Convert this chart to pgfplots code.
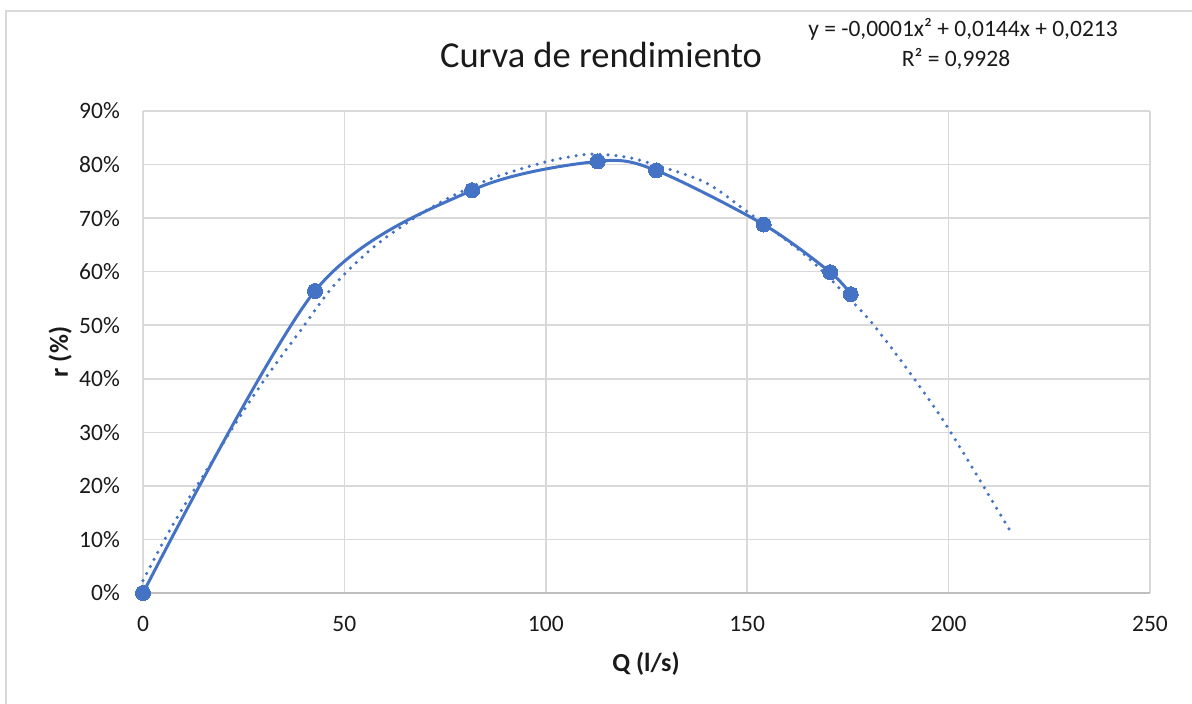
\documentclass[border=0pt]{standalone}
\usepackage{pgfplots}
\pgfplotsset{compat=1.18}
\usepackage{fontspec}
\setmainfont{Carlito}
\definecolor{xlblue}{HTML}{4472C4}
\definecolor{gridgrey}{HTML}{D9D9D9}
\definecolor{axisgrey}{HTML}{BFBFBF}
\definecolor{txt}{HTML}{1A1A1A}
\begin{document}
\begin{tikzpicture}
\path[use as bounding box] (-143pt,-111pt) rectangle (1049pt,593pt);
\draw[gridgrey, line width=1.5pt] (1060pt,-120pt) -- (-137pt,-120pt) -- (-137pt,582pt) -- (1060pt,582pt);
\begin{axis}[
scale only axis,
width=1007pt,
height=482pt,
xmin=0, xmax=250,
ymin=0, ymax=90,
xtick={0,50,100,150,200,250},
ytick={0,10,20,30,40,50,60,70,80,90},
xticklabels={0,50,100,150,200,250},
yticklabels={0\%,10\%,20\%,30\%,40\%,50\%,60\%,70\%,80\%,90\%},
major tick length=0pt,
axis x line*=bottom,
axis y line*=left,
x axis line style={axisgrey, line width=1.5pt, -},
y axis line style={draw=none},
grid=major,
grid style={gridgrey, line width=1.5pt},
tick label style={font=\fontsize{23.5}{28}\selectfont, text=txt},
xticklabel style={anchor=base, yshift=-39pt},
yticklabel style={anchor=east, inner sep=0pt, xshift=-23pt},
xlabel={\textbf{Q (l/s)}},
ylabel={\textbf{r (\%)}},
label style={font=\fontsize{26}{31}\selectfont, text=txt},
xlabel style={at={(rel axis cs:0.4995,0)}, anchor=base, yshift=-79pt},
ylabel style={at={(rel axis cs:-0.0745,0.5)}, anchor=base},
clip=false,
]
% dotted trendline
\addplot[xlblue, line width=3.5pt, line cap=round, dash pattern=on 0pt off 8pt, smooth] coordinates {
(0,2.3) (4.8,9.2) (9.5,15.4) (15.2,22.2) (22.9,31.6) (30.5,40.2) (39,48.9)
(47.6,57.6) (58.1,65.1) (71.4,71.9) (84.8,76.9) (99,80.3) (110.3,81.9)
(120,81.4) (128.2,79.7) (139.8,76.6) (149.8,71.3) (164.7,62.9) (177.9,53)
(182.9,48.6) (190.3,41.2) (199.8,30.9) (215.6,11.2)};
% measured values
\addplot[xlblue, line width=3pt, smooth, tension=0.5, mark=*, mark size=7.5pt,
  mark options={solid, fill=xlblue, draw=xlblue, line width=0pt}] coordinates {
(0,0) (42.7,56.4) (81.7,75.2) (112.9,80.6) (127.4,78.9) (154.1,68.8) (170.6,59.9) (175.7,55.8)};
\end{axis}
\node[anchor=base, text=txt, font=\fontsize{36.5}{44}\selectfont] at (458pt,525pt) {Curva de rendimiento};
\node[anchor=base, text=txt, font=\fontsize{23.5}{28}\selectfont] at (820pt,556pt) {y = -0,0001x² + 0,0144x + 0,0213};
\node[anchor=base, text=txt, font=\fontsize{23.5}{28}\selectfont] at (813pt,526pt) {R² = 0,9928};
\end{tikzpicture}
\end{document}
